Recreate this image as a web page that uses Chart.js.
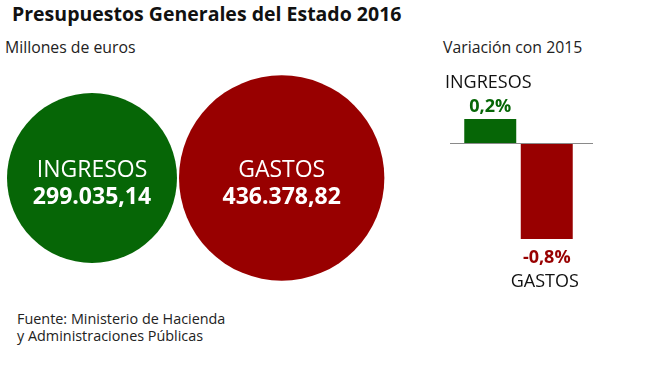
<!DOCTYPE html>
<html>
<head>
<meta charset="utf-8">
<script src="https://cdn.jsdelivr.net/npm/chart.js@4"></script>
<style>
    body { margin: 0; background: #fff; font-family: 'Open Sans', sans-serif; }
    #wrap { position: relative; width: 660px; height: 371px; overflow: hidden; }
    .txt { position: absolute; white-space: nowrap; color: #111; }
    #title { left: 12px; top: 0; font-size: 19.5px; font-weight: bold; line-height: 28px; }
    #sub { left: 5px; top: 37px; font-size: 15.8px; line-height: 20px; color: #222; }
    #sub2 { left: 443px; top: 37px; font-size: 15.8px; line-height: 20px; color: #222; }
    #source { left: 17px; top: 310px; font-size: 14.4px; line-height: 17px; color: #222; }
    #bubbleBox { position: absolute; left: 0; top: 60px; width: 400px; height: 240px; }
    #barBox { position: absolute; left: 420px; top: 60px; width: 220px; height: 250px; }
</style>
</head>
<body>
<div id="wrap">
    <div class="txt" id="title">Presupuestos Generales del Estado 2016</div>
    <div class="txt" id="sub">Millones de euros</div>
    <div class="txt" id="sub2">Variación con 2015</div>
    <div class="txt" id="source">Fuente: Ministerio de Hacienda<br>y Administraciones Públicas</div>
    <div id="bubbleBox"><canvas id="bubbleChart"></canvas></div>
    <div id="barBox"><canvas id="barChart"></canvas></div>
</div>
<script>
// Data (millones de euros / variación % con 2015)
const categories = ['INGRESOS', 'GASTOS'];
const budget = [299035.14, 436378.82];
const variation = [0.2, -0.8];
const colors = ['#066606', '#980000'];

// Format number the Spanish way: 299.035,14
function formatEs(v) {
    const parts = v.toFixed(2).split('.');
    const intPart = parts[0].replace(/\B(?=(\d{3})+(?!\d))/g, '.');
    return intPart + ',' + parts[1];
}

function formatPct(v) {
    return String(v).replace('.', ',') + '%';
}

// Circle area proportional to value
const radiusScale = 85 / Math.sqrt(budget[0]);
const radii = budget.map(v => radiusScale * Math.sqrt(v));

// Place circles side by side
const bubblePoints = [];
let cursor = 7;
budget.forEach((v, i) => {
    const r = radii[i];
    bubblePoints.push({ x: cursor + r, y: 118, r: r });
    cursor += 2 * r + 2;
});

const bubbleLabels = {
    id: 'bubbleLabels',
    afterDatasetsDraw(chart) {
        const ctx = chart.ctx;
        const meta = chart.getDatasetMeta(0);
        ctx.save();
        ctx.fillStyle = '#fff';
        ctx.textAlign = 'center';
        ctx.textBaseline = 'middle';
        meta.data.forEach((el, i) => {
            ctx.font = '23px "Open Sans"';
            ctx.fillText(categories[i], el.x, el.y - 8);
            ctx.font = 'bold 23px "Open Sans"';
            ctx.fillText(formatEs(budget[i]), el.x, el.y + 19);
        });
        ctx.restore();
    }
};

new Chart(document.getElementById('bubbleChart'), {
    type: 'bubble',
    data: {
        datasets: [{
            data: bubblePoints,
            backgroundColor: colors,
            borderWidth: 0,
            hoverRadius: 0,
            clip: false
        }]
    },
    options: {
        responsive: true,
        maintainAspectRatio: false,
        animation: false,
        events: [],
        layout: { padding: 0, autoPadding: false },
        plugins: { legend: { display: false }, tooltip: { enabled: false } },
        scales: {
            x: { type: 'linear', min: 0, max: 400, display: false },
            y: { type: 'linear', min: 0, max: 240, reverse: true, display: false }
        }
    },
    plugins: [bubbleLabels]
});

// Bar chart: zero line + labels
const barDecor = {
    id: 'barDecor',
    afterDatasetsDraw(chart) {
        const ctx = chart.ctx;
        const y0 = chart.scales.y.getPixelForValue(0);
        const area = chart.chartArea;
        ctx.save();
        ctx.strokeStyle = '#8a8a8a';
        ctx.lineWidth = 1;
        ctx.beginPath();
        ctx.moveTo(area.left - 12, Math.round(y0) + 0.5);
        ctx.lineTo(area.right + 18, Math.round(y0) + 0.5);
        ctx.stroke();

        const meta = chart.getDatasetMeta(0);
        ctx.textAlign = 'center';
        ctx.textBaseline = 'middle';
        meta.data.forEach((bar, i) => {
            const v = variation[i];
            const up = v >= 0;
            ctx.fillStyle = colors[i];
            ctx.font = 'bold 18px "Open Sans"';
            ctx.fillText(formatPct(v), bar.x, bar.y + (up ? -12.5 : 19));
            ctx.fillStyle = '#111';
            ctx.font = '18px "Open Sans"';
            ctx.fillText(categories[i], bar.x - 2, bar.y + (up ? -36.5 : 42.5));
        });
        ctx.restore();
    }
};

new Chart(document.getElementById('barChart'), {
    type: 'bar',
    data: {
        labels: categories,
        datasets: [{
            data: variation,
            backgroundColor: colors,
            borderWidth: 0,
            barPercentage: 0.92,
            categoryPercentage: 1
        }]
    },
    options: {
        responsive: true,
        maintainAspectRatio: false,
        animation: false,
        events: [],
        layout: { padding: { left: 42, right: 65, top: 35, bottom: 47 } },
        plugins: { legend: { display: false }, tooltip: { enabled: false } },
        scales: {
            x: { display: false },
            y: { min: -1.0, max: 0.4, display: false }
        }
    },
    plugins: [barDecor]
});
</script>
</body>
</html>
